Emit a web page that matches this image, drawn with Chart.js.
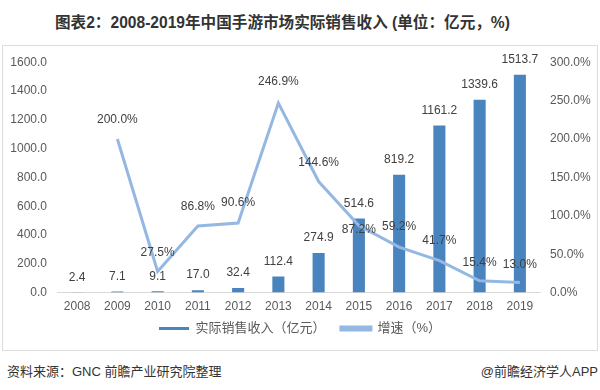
<!DOCTYPE html>
<html>
<head>
<meta charset="utf-8">
<script src="https://cdn.jsdelivr.net/npm/chart.js@4/dist/chart.umd.min.js"></script>
<style>
  body { margin: 0; background: #fff; }
  #wrap { position: relative; width: 600px; height: 390px; overflow: hidden; font-family: "Liberation Sans", "Noto Sans CJK SC", sans-serif; }
  #title { position: absolute; left: 55px; top: 10px; font-size: 15.6px; font-weight: bold; color: #333; white-space: nowrap; font-family: "Liberation Sans", "Noto Sans CJK SC", sans-serif; }
  #frame { position: absolute; left: 2px; top: 45px; width: 594px; height: 304px; border: 1px solid #dcdcdc; }
  #box { position: absolute; left: 0; top: 45px; width: 600px; height: 305px; }
  #src { position: absolute; left: 7px; top: 361px; font-size: 13px; color: #333; font-family: "Liberation Sans", "Noto Sans CJK SC", sans-serif; }
  #app { position: absolute; right: 2px; top: 361px; font-size: 13px; color: #333; font-family: "Liberation Sans", "Noto Sans CJK SC", sans-serif; }
</style>
</head>
<body>
<div id="wrap">
  <div id="title">图表2：2008-2019年中国手游市场实际销售收入 (单位：亿元，%)</div>
  <div id="frame"></div>
  <div id="box"><canvas id="myChart" width="600" height="305"></canvas></div>
  <div id="src">资料来源：GNC 前瞻产业研究院整理</div>
  <div id="app">@前瞻经济学人APP</div>
</div>
<script>
// data
const years = ['2008','2009','2010','2011','2012','2013','2014','2015','2016','2017','2018','2019']
const revenue = [2.4, 7.1, 9.1, 17.0, 32.4, 112.4, 274.9, 514.6, 819.2, 1161.2, 1339.6, 1513.7]
const growth = [null, 200.0, 27.5, 86.8, 90.6, 246.9, 144.6, 87.2, 59.2, 41.7, 15.4, 13.0]
const revenueName = '实际销售收入（亿元）'
const growthName = '增速（%）'

// how far each growth label sits above its point (px)
const lineLabelLift = [19, 19, 19, 19, 20, 21, 19, -4, 20, 20, 18, 18]

const barColor = '#4a84bf'
const lineColor = '#95b8e3'
const textColor = '#404040'

const valueLabels = {
	id: 'valueLabels',
	afterDatasetsDraw(chart) {
		const ctx = chart.ctx
		ctx.save()
		ctx.font = '12px "Liberation Sans", Arial, sans-serif'
		ctx.fillStyle = textColor
		ctx.textAlign = 'center'
		ctx.textBaseline = 'middle'
		chart.getDatasetMeta(0).data.forEach((bar, i) => {
			ctx.fillText(revenue[i].toFixed(1), bar.x, bar.y - 15)
		})
		chart.getDatasetMeta(1).data.forEach((pt, i) => {
			if (growth[i] === null) return
			ctx.fillText(growth[i].toFixed(1) + '%', pt.x, pt.y - lineLabelLift[i])
		})
		ctx.restore()
	}
}

let ctx = document.getElementById('myChart').getContext('2d')

let myChart = new Chart(ctx, {
	type: 'bar',
	data: {
		labels: years,
		datasets: [{
			label: revenueName,
			data: revenue,
			backgroundColor: barColor,
			borderWidth: 0,
			barPercentage: 0.6,
			categoryPercentage: 0.5,
			yAxisID: 'y',
			order: 1
		}, {
			type: 'line',
			label: growthName,
			data: growth,
			borderColor: lineColor,
			backgroundColor: lineColor,
			borderWidth: 3,
			pointRadius: 0,
			tension: 0,
			yAxisID: 'y1',
			order: 0
		}]
	},
	options: {
		responsive: false,
		animation: false,
		layout: { padding: { left: 2, right: 2, top: 13, bottom: 5 } },
		plugins: {
			title: { display: false },
			tooltip: { enabled: false },
			legend: {
				position: 'bottom',
				labels: {
					sort: (a, b) => a.datasetIndex - b.datasetIndex,
					boxWidth: 30,
					boxHeight: 3,
					padding: 1,
					color: '#595959',
					font: { size: 13, family: '"Liberation Sans", "Noto Sans CJK SC", sans-serif' },
					// extra room between the two legend entries
					generateLabels: chart => Chart.defaults.plugins.legend.labels.generateLabels(chart).map(l => {
						if (l.datasetIndex === 0) l.text = l.text + '\u00a0\u00a0\u00a0\u00a0'
						return l
					})
				}
			}
		},
		scales: {
			x: {
				grid: { display: false, drawTicks: false },
				border: { color: '#d9d9d9' },
				ticks: { color: '#595959', padding: 7, font: { size: 12 } }
			},
			y: {
				position: 'left',
				min: 0,
				max: 1600,
				grid: { display: false, drawTicks: false },
				border: { display: false },
				afterFit: s => { s.width = 55 },
				ticks: {
					stepSize: 200,
					padding: 10,
					color: '#595959',
					font: { size: 12 },
					callback: v => v.toFixed(1)
				}
			},
			y1: {
				position: 'right',
				min: 0,
				max: 300,
				grid: { display: false, drawTicks: false },
				border: { display: false },
				afterFit: s => { s.width = 58 },
				ticks: {
					stepSize: 50,
					padding: 10,
					color: '#595959',
					font: { size: 12 },
					callback: v => v.toFixed(1) + '%'
				}
			}
		}
	},
	plugins: [valueLabels]
})
</script>
</body>
</html>
